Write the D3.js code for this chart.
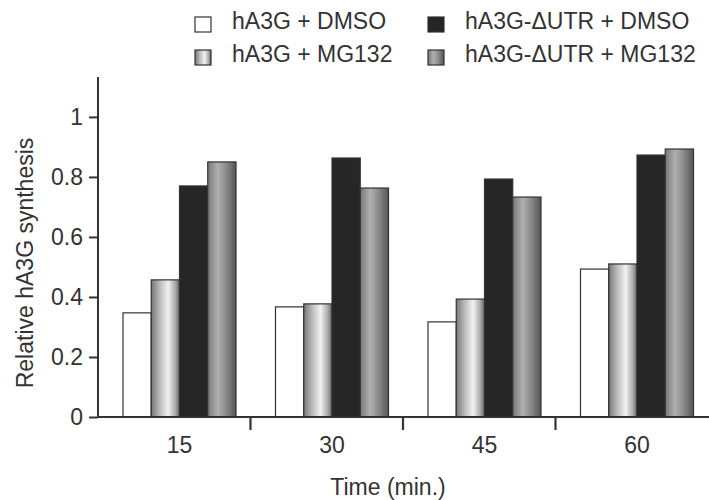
<!DOCTYPE html>
<html>
<head>
<meta charset="utf-8">
<script src="https://cdn.jsdelivr.net/npm/d3@7"></script>
<style>
  body { margin: 0; background: #fff; }
  text { font-family: "Liberation Sans", Arial, sans-serif; fill: #333; }
</style>
</head>
<body>
<div id="container"></div>
<script>
/* CONSTANTS AND GLOBALS */
const width = 709,
  height = 500,
  margin = { top: 77, bottom: 83, left: 98, right: 1 },
  fontSize = 23;

/* DATA */
const times = ["15", "30", "45", "60"];
const series = ["hA3G + DMSO", "hA3G + MG132", "hA3G-\u0394UTR + DMSO", "hA3G-\u0394UTR + MG132"];
const dmso = [0.347, 0.367, 0.317, 0.493];
const mg132 = [0.457, 0.377, 0.393, 0.51];
const utrDmso = [0.77, 0.863, 0.793, 0.873];
const utrMg132 = [0.85, 0.763, 0.733, 0.893];
const yTicks = [0, 0.2, 0.4, 0.6, 0.8, 1];

const values = [dmso, mg132, utrDmso, utrMg132];
const data = times.map((t, i) => ({
  time: t,
  bars: series.map((s, j) => ({ series: s, value: values[j][i] }))
}));

/* SCALES */
const xScale = d3.scaleBand()
  .domain(times)
  .range([margin.left, 708]);

const groupOffset = 25, groupWidth = 113;

const innerScale = d3.scaleBand()
  .domain(series)
  .range([0, groupWidth]);

const yScale = d3.scaleLinear()
  .domain([0, 1.133])
  .range([height - margin.bottom, margin.top]);

/* HTML ELEMENTS */
const svg = d3.select("#container")
  .append("svg")
  .attr("width", width)
  .attr("height", height);

// cylinder-like shading for the MG132 bars
const defs = svg.append("defs");
function addGrad(id, stops) {
  const g = defs.append("linearGradient")
    .attr("id", id)
    .attr("x1", "0%").attr("x2", "100%")
    .attr("y1", "0%").attr("y2", "0%");
  stops.forEach(s => g.append("stop").attr("offset", s[0]).attr("stop-color", s[1]));
}
addGrad("gradLight", [["0%", "#777"], ["30%", "#bbb"], ["60%", "#f2f2f2"], ["85%", "#aaa"], ["100%", "#666"]]);
addGrad("gradDark", [["0%", "#777"], ["35%", "#b0b0b0"], ["65%", "#8a8a8a"], ["100%", "#555"]]);

const fillScale = d3.scaleOrdinal()
  .domain(series)
  .range(["#fff", "url(#gradLight)", "#262626", "url(#gradDark)"]);

/* BARS */
const groups = svg.selectAll("g.group")
  .data(data)
  .join("g")
  .attr("class", "group")
  .attr("transform", d => `translate(${xScale(d.time) + groupOffset},0)`);

groups.selectAll("rect")
  .data(d => d.bars)
  .join("rect")
  .attr("x", d => innerScale(d.series))
  .attr("y", d => yScale(d.value))
  .attr("width", innerScale.bandwidth())
  .attr("height", d => yScale(0) - yScale(d.value))
  .attr("fill", d => fillScale(d.series))
  .attr("stroke", "#333")
  .attr("stroke-width", 1.2);

/* AXES */
const yAxis = d3.axisLeft(yScale)
  .tickValues(yTicks)
  .tickFormat(d => d)
  .tickSize(9)
  .tickPadding(6);

svg.append("g")
  .attr("transform", `translate(${margin.left},0)`)
  .call(yAxis)
  .call(g => g.selectAll("path, line").attr("stroke", "#333").attr("stroke-width", 2))
  .call(g => g.select(".domain").attr("d", `M0,${yScale(0)}V${margin.top}`))
  .call(g => g.selectAll("text").attr("font-size", fontSize).attr("fill", "#333"));

const xAxis = d3.axisBottom(xScale)
  .tickSize(0)
  .tickPadding(20);

svg.append("g")
  .attr("transform", `translate(0,${yScale(0)})`)
  .call(xAxis)
  .call(g => g.select(".domain").attr("d", `M${margin.left},0H${width}`)
    .attr("stroke", "#333").attr("stroke-width", 2))
  .call(g => g.selectAll(".tick")
    .attr("transform", d => `translate(${xScale(d) + groupOffset + groupWidth / 2},0)`))
  .call(g => g.selectAll(".tick text").attr("font-size", fontSize).attr("fill", "#333"));

// ticks between the time groups
svg.append("g")
  .selectAll("line")
  .data(times.slice(1))
  .join("line")
  .attr("x1", d => xScale(d))
  .attr("x2", d => xScale(d))
  .attr("y1", yScale(0))
  .attr("y2", yScale(0) + 13)
  .attr("stroke", "#333")
  .attr("stroke-width", 2.2);

/* AXIS TITLES */
svg.append("text")
  .attr("x", 388)
  .attr("y", 495)
  .attr("text-anchor", "middle")
  .attr("font-size", fontSize)
  .text("Time (min.)");

svg.append("text")
  .attr("transform", "translate(33,263) rotate(-90)")
  .attr("text-anchor", "middle")
  .attr("font-size", fontSize)
  .text("Relative hA3G synthesis");

/* LEGEND */
const legendPos = [[195, 17], [195, 50], [428, 17], [428, 50]];
const legend = svg.append("g")
  .selectAll("g")
  .data(series)
  .join("g")
  .attr("transform", (d, i) => `translate(${legendPos[i][0]},${legendPos[i][1]})`);

legend.append("rect")
  .attr("width", 16)
  .attr("height", 15)
  .attr("fill", d => fillScale(d))
  .attr("stroke", "#333")
  .attr("stroke-width", 1.2);

legend.append("text")
  .attr("x", 37)
  .attr("y", 12)
  .attr("font-size", fontSize)
  .text(d => d);
</script>
</body>
</html>
